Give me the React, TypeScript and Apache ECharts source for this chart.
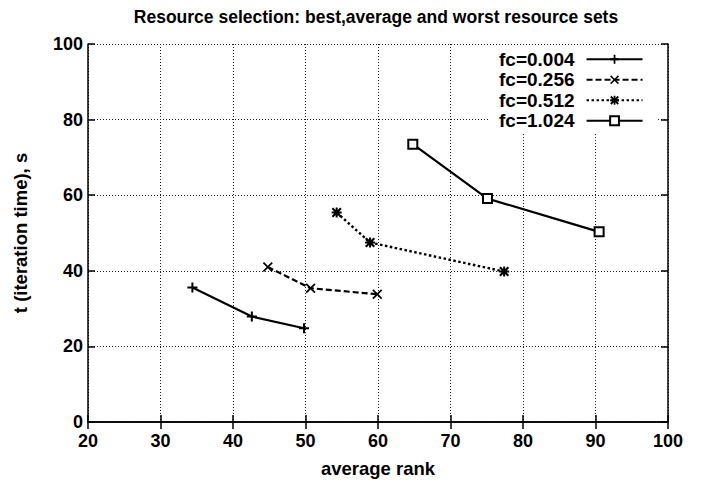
import React, { useEffect, useRef } from "react";
import * as echarts from "echarts";

// Average rank vs iteration time for four communication/computation ratios
const seriesNames = ["fc=0.004", "fc=0.256", "fc=0.512", "fc=1.024"];
const rank004 = [34.4, 42.6, 49.8];
const time004 = [35.6, 27.9, 24.8];
const rank256 = [44.8, 50.7, 59.9];
const time256 = [41.0, 35.4, 33.8];
const rank512 = [54.3, 58.9, 77.4];
const time512 = [55.4, 47.5, 39.8];
const rank1024 = [64.8, 75.1, 90.5];
const time1024 = [73.5, 59.1, 50.3];

const xTicks = { min: 20, max: 100, interval: 10 };
const yTicks = { min: 0, max: 100, interval: 20 };

const FONT = "'Liberation Sans', Arial, Helvetica, sans-serif";

const plusPath = "path://M0,4 L10,4 L10,6 L0,6 Z M4,0 L6,0 L6,10 L4,10 Z";
const crossPath =
  "path://M1.2,0 L5,3.8 L8.8,0 L10,1.2 L6.2,5 L10,8.8 L8.8,10 L5,6.2 L1.2,10 L0,8.8 L3.8,5 L0,1.2 Z";
const starPath =
  "path://M0,4 L10,4 L10,6 L0,6 Z M4,0 L6,0 L6,10 L4,10 Z M1.5,0 L5,3.5 L8.5,0 L10,1.5 L6.5,5 L10,8.5 L8.5,10 L5,6.5 L1.5,10 L0,8.5 L3.5,5 L0,1.5 Z";

function pairs(xs: number[], ys: number[]) {
  return xs.map((x, i) => [x, ys[i]]);
}

export default function App() {
  const ref = useRef<HTMLDivElement>(null);

  useEffect(() => {
    if (!ref.current) return;
    const chart = echarts.init(ref.current, null, { renderer: "svg" });

    const gridLine = { show: true, lineStyle: { color: "#222", width: 1, type: [1, 2] } };
    const axisLine = { show: true, lineStyle: { color: "#000", width: 1.5 } };
    const tick = { show: true, inside: true, length: 7, lineStyle: { color: "#000", width: 1.5 } };
    const label = { color: "#000", fontFamily: FONT, fontSize: 18, fontWeight: "bold" };
    const nameStyle = { fontFamily: FONT, fontSize: 18.5, fontWeight: "bold", color: "#000" };

    chart.setOption({
      animation: false,
      backgroundColor: "#fff",
      textStyle: { fontFamily: FONT, color: "#000" },
      grid: { left: 88, right: 43, top: 44, bottom: 60, containLabel: false },
      graphic: [
        {
          type: "text",
          x: 376,
          y: 17,
          style: {
            text: "Resource selection: best,average and worst resource sets",
            font: `bold 17.5px ${FONT}`,
            fill: "#000",
            textAlign: "center",
            textVerticalAlign: "middle",
          },
        },
      ],
      legend: {
        data: seriesNames,
        orient: "vertical",
        align: "right",
        left: 489,
        top: 47,
        padding: [2, 13, 3, 10],
        backgroundColor: "#fff",
        itemWidth: 56,
        itemHeight: 11,
        itemGap: 0,
        textStyle: {
          fontFamily: FONT,
          fontSize: 19,
          fontWeight: "bold",
          color: "#000",
          padding: [0, 7, 0, 0],
          lineHeight: 20.5,
        },
        z: 10,
      },
      xAxis: [
        {
          type: "value",
          ...xTicks,
          position: "bottom",
          name: "average rank",
          nameLocation: "middle",
          nameGap: 37,
          nameTextStyle: nameStyle,
          axisLine,
          axisTick: tick,
          axisLabel: { ...label, margin: 10 },
          splitLine: gridLine,
        },
        {
          type: "value",
          ...xTicks,
          position: "top",
          axisLine,
          axisTick: tick,
          axisLabel: { show: false },
          splitLine: { show: false },
        },
      ],
      yAxis: [
        {
          type: "value",
          ...yTicks,
          position: "left",
          name: "t (iteration time), s",
          nameLocation: "middle",
          nameGap: 58,
          nameTextStyle: nameStyle,
          axisLine,
          axisTick: tick,
          axisLabel: { ...label, margin: 5 },
          splitLine: gridLine,
        },
        {
          type: "value",
          ...yTicks,
          position: "right",
          axisLine,
          axisTick: tick,
          axisLabel: { show: false },
          splitLine: { show: false },
        },
      ],
      series: [
        {
          name: seriesNames[0],
          type: "line",
          data: pairs(rank004, time004),
          symbol: plusPath,
          symbolSize: 10,
          lineStyle: { color: "#000", width: 2.2, type: "solid" },
          itemStyle: { color: "#000" },
        },
        {
          name: seriesNames[1],
          type: "line",
          data: pairs(rank256, time256),
          symbol: crossPath,
          symbolSize: 10,
          lineStyle: { color: "#000", width: 2.2, type: [6, 3] },
          itemStyle: { color: "#000" },
        },
        {
          name: seriesNames[2],
          type: "line",
          data: pairs(rank512, time512),
          symbol: starPath,
          symbolSize: 10,
          lineStyle: { color: "#000", width: 2.4, type: [2.5, 2.5] },
          itemStyle: { color: "#000" },
        },
        {
          name: seriesNames[3],
          type: "line",
          data: pairs(rank1024, time1024),
          symbol: "rect",
          symbolSize: 9,
          lineStyle: { color: "#000", width: 2.2, type: "solid" },
          itemStyle: { color: "#fff", borderColor: "#000", borderWidth: 2 },
        },
      ],
    });

    return () => chart.dispose();
  }, []);

  return (
    <div
      ref={ref}
      style={{ position: "fixed", left: 0, top: 0, width: 711, height: 483, background: "#fff" }}
    />
  );
}
